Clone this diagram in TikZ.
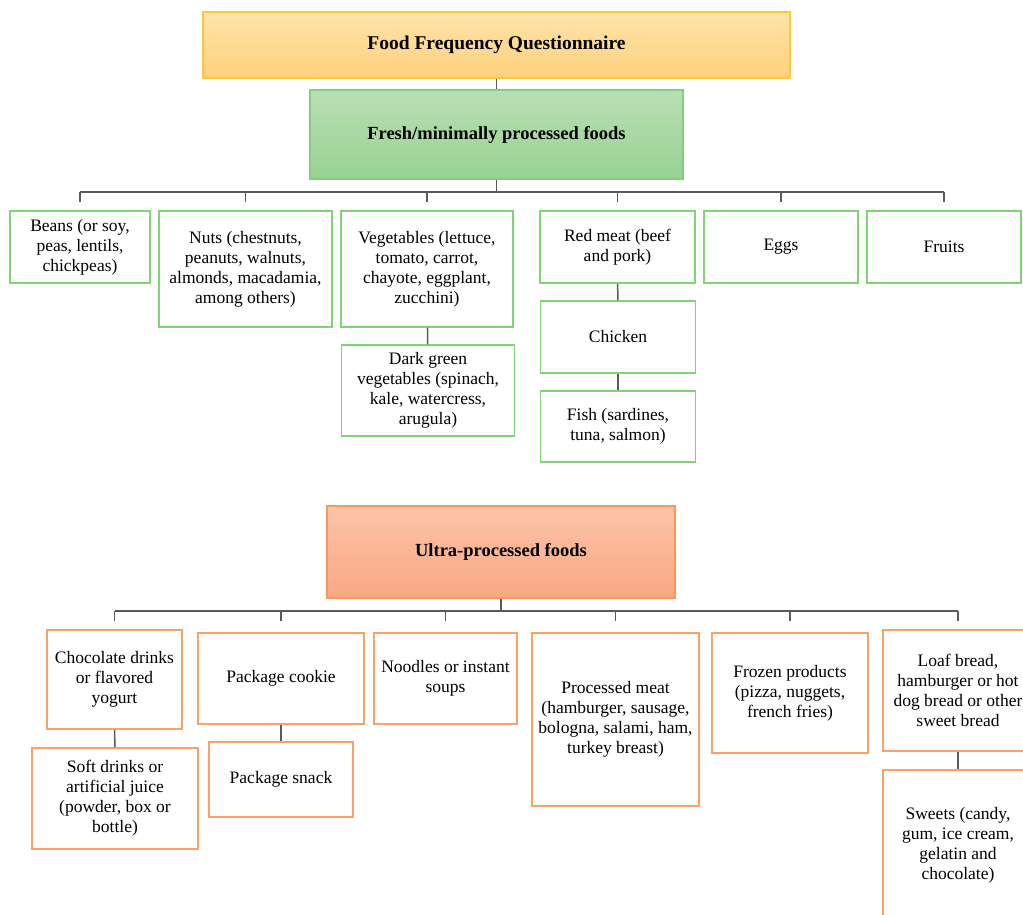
\documentclass[tikz,border=0pt]{standalone}
\usepackage{fontspec}
\setmainfont{Liberation Serif}
\usepackage{tikz}

\definecolor{titleedge}{HTML}{FFC933}
\definecolor{titletop}{HTML}{FEE4AA}
\definecolor{titlebot}{HTML}{FDD07C}
\definecolor{freshedge}{HTML}{84CC7E}
\definecolor{freshtop}{HTML}{B9DFB5}
\definecolor{freshbot}{HTML}{98D291}
\definecolor{ultraedge}{HTML}{F9975A}
\definecolor{ultratop}{HTML}{FCC4A8}
\definecolor{ultrabot}{HTML}{F9A782}
\definecolor{greenedge}{HTML}{7FD474}
\definecolor{orangeedge}{HTML}{F9A36B}
\definecolor{wirecol}{HTML}{5A5A5A}

\begin{document}
\begin{tikzpicture}[x=1pt, y=-1pt,
  every node/.style={font=\fontsize{17.5}{20}\selectfont, align=center, inner sep=0pt},
  head/.style={line width=1.5pt, font=\fontsize{18.5}{20}\selectfont\bfseries},
  freshitem/.style={draw=greenedge, line width=1.5pt},
  ultraitem/.style={draw=orangeedge, line width=1.5pt},
  wire/.style={draw=wirecol, line width=1.5pt}]

\useasboundingbox (0,0) rectangle (1023,915);
\clip (0,0) rectangle (1023,915);

% heads
\node[head, draw=titleedge, top color=titletop, bottom color=titlebot, minimum width=587, minimum height=66, font=\fontsize{19.5}{20}\selectfont\bfseries] (ffq) at (496.5,45) {Food Frequency Questionnaire};
\node[head, draw=freshedge, top color=freshtop, bottom color=freshbot, minimum width=373, minimum height=89] (fresh) at (496.5,134.5) {Fresh/minimally processed foods};
\node[head, draw=ultraedge, top color=ultratop, bottom color=ultrabot, minimum width=348, minimum height=92] (ultra) at (501,552) {Ultra-processed foods};

% fresh items
\node[freshitem, minimum width=140, minimum height=72] (beans) at (80,247) {Beans (or soy,\\peas, lentils,\\chickpeas)};
\node[freshitem, minimum width=173, minimum height=116] (nuts) at (245.5,269) {Nuts (chestnuts,\\peanuts, walnuts,\\almonds, macadamia,\\among others)};
\node[freshitem, minimum width=172, minimum height=116] (veg) at (427,269) {Vegetables (lettuce,\\tomato, carrot,\\chayote, eggplant,\\zucchini)};
\node[freshitem, minimum width=173, minimum height=91] (darkveg) at (428,390.5) {Dark green\\vegetables (spinach,\\kale, watercress,\\arugula)};
\node[freshitem, minimum width=155, minimum height=72] (redmeat) at (617.5,247) {Red meat (beef\\and pork)};
\node[freshitem, minimum width=155, minimum height=72] (chicken) at (618,337) {Chicken};
\node[freshitem, minimum width=155, minimum height=71] (fish) at (618,426.5) {Fish (sardines,\\tuna, salmon)};
\node[freshitem, minimum width=154, minimum height=72] (eggs) at (781,247) {Eggs};
\node[freshitem, minimum width=154, minimum height=72] (fruits) at (944,247) {Fruits};

% ultra items
\node[ultraitem, minimum width=135, minimum height=99] (choc) at (114.5,679.5) {Chocolate drinks\\or flavored\\yogurt};
\node[ultraitem, minimum width=166, minimum height=101] (soft) at (115,798.5) {Soft drinks or\\artificial juice\\(powder, box or\\bottle)};
\node[ultraitem, minimum width=166, minimum height=91] (cookie) at (281,678.5) {Package cookie};
\node[ultraitem, minimum width=144, minimum height=75] (snack) at (281,779.5) {Package snack};
\node[ultraitem, minimum width=143, minimum height=91] (noodles) at (445.5,678.5) {Noodles or instant\\soups};
\node[ultraitem, minimum width=167, minimum height=173] (procmeat) at (615.5,719.5) {Processed meat\\(hamburger, sausage,\\bologna, salami, ham,\\turkey breast)};
\node[ultraitem, minimum width=156, minimum height=120] (frozen) at (790,693) {Frozen products\\(pizza, nuggets,\\french fries)};
\node[ultraitem, minimum width=150, minimum height=121] (loaf) at (958,690.5) {Loaf bread,\\hamburger or hot\\dog bread or other\\sweet bread};
\node[ultraitem, minimum width=150, minimum height=150] (sweets) at (958,845) {Sweets (candy,\\gum, ice cream,\\gelatin and\\chocolate)};

% buses
\coordinate (busF) at (0,192);
\coordinate (tickF) at (0,202);
\coordinate (busU) at (0,611);
\coordinate (tickU) at (0,621);

\draw[wire] (ffq) -- (fresh);
\draw[wire] (fresh.south) -- (fresh.south |- busF);
\draw[wire] (beans.north |- busF) -- (fruits.north |- busF);
\foreach \n in {beans,nuts,veg,redmeat,eggs,fruits}
  \draw[wire] (\n.north |- busF) -- (\n.north |- tickF);
\draw[wire] (veg) -- (darkveg);
\draw[wire] (redmeat) -- (chicken);
\draw[wire] (chicken) -- (fish);

\draw[wire] (ultra.south) -- (ultra.south |- busU);
\draw[wire] (choc.north |- busU) -- (loaf.north |- busU);
\foreach \n in {choc,cookie,noodles,procmeat,frozen,loaf}
  \draw[wire] (\n.north |- busU) -- (\n.north |- tickU);
\draw[wire] (choc) -- (soft);
\draw[wire] (cookie) -- (snack);
\draw[wire] (loaf) -- (sweets);

\end{tikzpicture}
\end{document}
